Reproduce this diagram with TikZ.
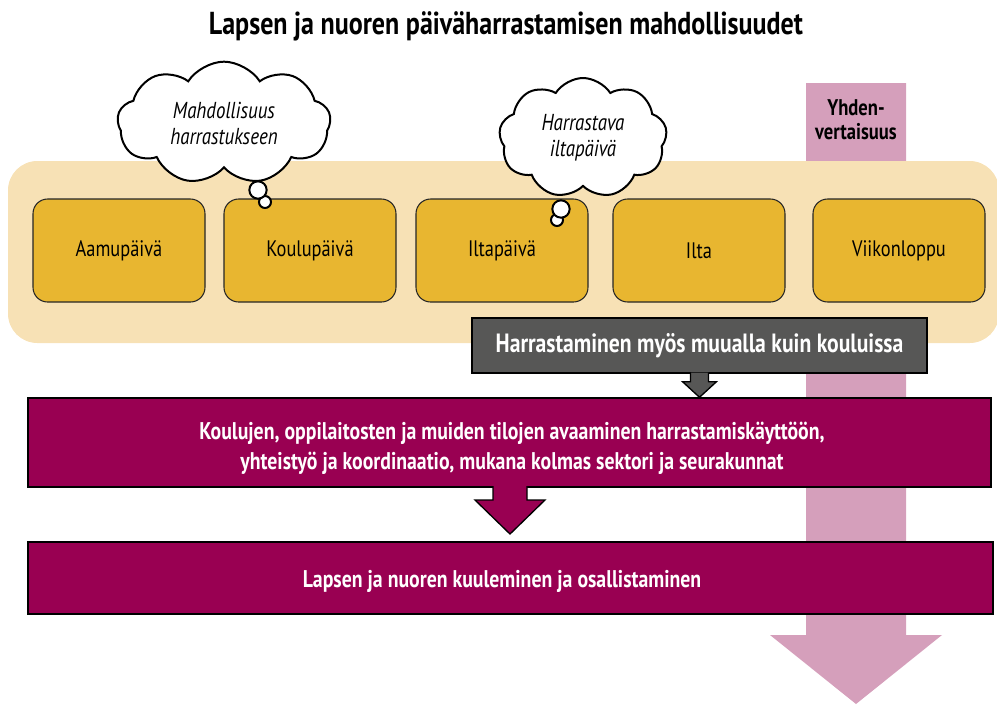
\documentclass[tikz,border=0pt]{standalone}
\usepackage{fontspec}
\setmainfont{PT Sans}[FakeStretch=0.82]
\usetikzlibrary{shapes.symbols,calc}
\definecolor{beige}{HTML}{F7E1B5}
\definecolor{dayyel}{HTML}{E8B630}
\definecolor{pinkbar}{HTML}{D59FBB}
\definecolor{wine}{HTML}{990052}
\definecolor{darkgray}{HTML}{575756}
\tikzset{
  daybox/.style={draw=black!85, line width=0.8pt, fill=dayyel, rounded corners=11pt,
    minimum width=129pt, minimum height=77.25pt, inner sep=0pt,
    font=\fontsize{16.8}{19}\selectfont},
  thought/.style={cloud, cloud puffs=9, cloud puff arc=115, cloud ignores aspect,
    draw=black, line width=1.5pt, fill=white, align=center, inner sep=0pt,
    font=\fontsize{17.3}{19.5}\selectfont\itshape},
  bubble/.style={circle, draw=black, line width=1.5pt, fill=white, inner sep=0pt},
  winebox/.style={draw=black, line width=1.1pt, fill=wine, inner sep=0pt},
  winetext/.style={text=white, align=center, inner sep=0pt, font=\fontsize{18.1}{22.5}\selectfont\bfseries},
}
\begin{document}
\begin{tikzpicture}[x=0.75pt,y=-0.75pt]
\useasboundingbox (0,0) rectangle (997,704);
% title
\node (title) at (506,26) {\fontsize{23.8}{26}\selectfont\bfseries Lapsen ja nuoren päiväharrastamisen mahdollisuudet};
% equality bar
\coordinate (eqtop) at (856,83);
\fill[pinkbar] (806,83) -- (906,83) -- (906,635) -- (942,635) -- (856,704) -- (770,635) -- (806,635) -- cycle;
\node[align=center, font=\fontsize{17}{18}\selectfont\bfseries] (eq) at (856,120) {Yhden-\\vertaisuus};
% band
\node[fill=beige, rounded corners=22pt, minimum width=743.25pt, minimum height=136.5pt, inner sep=0pt] (band) at (503.5,252) {};
% day boxes
\node[daybox] (aamu) at (119,250.5) {Aamupäivä};
\node[daybox] (koulu) at (310,250.5) {Koulupäivä};
\node[daybox] (ilta1) at (502,250.5) {Iltapäivä};
\node[daybox] (ilta) at (699,250.5) {Ilta};
\node[daybox] (vl) at (899,250.5) {Viikonloppu};
% clouds
\node[thought, minimum width=160pt, minimum height=92pt] (c1) at (224,123) {Mahdollisuus\\harrastukseen};
\node[bubble, minimum size=9pt] (b1s) at (265,202) {};
\node[bubble, minimum size=13pt] (b1) at (258,190) {};
\node[thought, minimum width=126pt, minimum height=90pt] (c2) at (583,138) {Harrastava\\iltapäivä};
\node[bubble, minimum size=9pt] (b2s) at (557,220) {};
\node[bubble, minimum size=13pt] (b2) at (561,209) {};
% gray box
\node[draw=black, line width=1pt, fill=darkgray, text=white, minimum width=341.25pt, minimum height=41.25pt,
  inner sep=0pt, font=\fontsize{19.8}{22}\selectfont\bfseries] (gray) at (699.5,345.5) {Harrastaminen myös muualla kuin kouluissa};
% wine boxes
\node[winebox, minimum width=722.25pt, minimum height=66.75pt] (w1) at (509.5,442.5) {};
\node[winetext] (w1t) at (512,448)
  {Koulujen, oppilaitosten ja muiden tilojen avaaminen harrastamiskäyttöön,\\yhteistyö ja koordinaatio, mukana kolmas sektori ja seurakunnat};
\node[winebox, minimum width=723.75pt, minimum height=54pt] (w2) at (510.5,578) {};
\node[winetext] (w2t) at (502,581) {Lapsen ja nuoren kuuleminen ja osallistaminen};
% gray arrow
\coordinate (ga) at (gray.south);
\draw[fill=darkgray, line width=1pt, line join=miter]
  ($(ga)+(-9,-1)$) -- ($(ga)+(-9,8)$) -- ($(ga)+(-17,8)$) -- (ga |- w1.north) -- ($(ga)+(17,8)$) -- ($(ga)+(9,8)$) -- ($(ga)+(9,-1)$);
% wine arrow
\coordinate (wa) at (510,487);
\draw[fill=wine, line width=1pt, line join=miter]
  ($(wa)+(-17,-1)$) -- ($(wa)+(-17,13)$) -- ($(wa)+(-35,13)$) -- ($(wa)+(0,47)$) -- ($(wa)+(35,13)$) -- ($(wa)+(17,13)$) -- ($(wa)+(17,-1)$);
\end{tikzpicture}
\end{document}
